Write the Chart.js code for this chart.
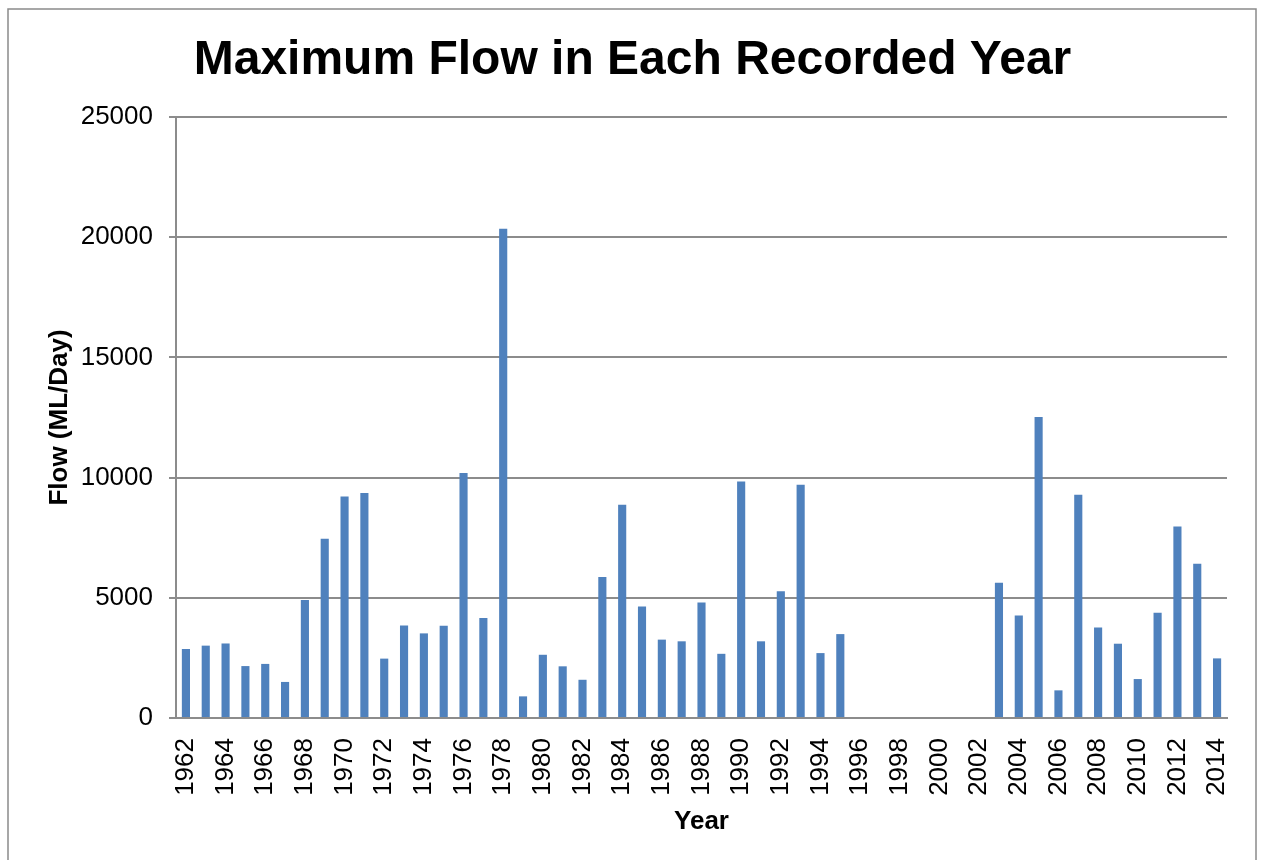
<!DOCTYPE html>
<html>
<head>
<meta charset="utf-8">
<title>Maximum Flow in Each Recorded Year</title>
<script src="https://cdn.jsdelivr.net/npm/chart.js@4/dist/chart.umd.min.js"></script>
<style>
  html, body { margin: 0; padding: 0; background: #ffffff; }
  #wrap { width: 1261px; height: 860px; position: relative; }
</style>
</head>
<body>
<div id="wrap"><canvas id="chart" width="1261" height="860"></canvas></div>
<script>
// Recording years (no gauging 1996–2002)
const years = [
  1962, 1963, 1964, 1965, 1966, 1967, 1968, 1969, 1970, 1971,
  1972, 1973, 1974, 1975, 1976, 1977, 1978, 1979, 1980, 1981,
  1982, 1983, 1984, 1985, 1986, 1987, 1988, 1989, 1990, 1991,
  1992, 1993, 1994, 1995, 1996, 1997, 1998, 1999, 2000, 2001,
  2002, 2003, 2004, 2005, 2006, 2007, 2008, 2009, 2010, 2011,
  2012, 2013, 2014
];

// Annual maximum flow, ML/Day
const maxFlow = [
  2870, 3010, 3100, 2160, 2250, 1500, 4910, 7460, 9210, 9360,
  2470, 3850, 3520, 3840, 10190, 4160, 20350, 900, 2630, 2150,
  1590, 5870, 8870, 4640, 3260, 3190, 4800, 2670, 9840, 3190,
  5270, 9700, 2700, 3490, null, null, null, null, null, null,
  null, 5630, 4260, 12520, 1150, 9290, 3760, 3090, 1620, 4380,
  7970, 6420, 2480
];

// Flow axis ticks
const flowTicks = [0, 5000, 10000, 15000, 20000, 25000];

const FONT = "'Liberation Sans', Arial, Helvetica, sans-serif";
const GRID = '#8c8c8c';

Chart.defaults.font.family = FONT;
Chart.defaults.color = '#000000';

// Outer frame around the whole chart
const framePlugin = {
  id: 'frame',
  beforeDraw(chart) {
    const ctx = chart.ctx;
    ctx.save();
    ctx.fillStyle = '#ffffff';
    ctx.fillRect(0, 0, chart.width, chart.height);
    ctx.strokeStyle = '#8a8a8a';
    ctx.lineWidth = 1.5;
    ctx.strokeRect(8, 9, 1248, 1000);
    ctx.restore();
  }
};

new Chart(document.getElementById('chart'), {
  type: 'bar',
  data: {
    labels: years.map(String),
    datasets: [{
      label: 'Maximum flow',
      data: maxFlow,
      backgroundColor: '#4f81bd',
      borderWidth: 0,
      categoryPercentage: 1.0,
      barPercentage: 0.41
    }]
  },
  options: {
    responsive: false,
    animation: false,
    layout: { padding: { left: 38, right: 34, top: 0, bottom: 0 } },
    plugins: {
      legend: { display: false },
      tooltip: { enabled: false },
      title: {
        display: true,
        text: 'Maximum Flow in Each Recorded Year',
        color: '#000000',
        font: { family: FONT, size: 48, weight: 'bold', lineHeight: 1.2 },
        padding: { top: 32, bottom: 27.4 }
      }
    },
    scales: {
      x: {
        grid: { display: false, drawTicks: false },
        border: { display: true, color: GRID, width: 2 },
        ticks: {
          autoSkip: false,
          maxRotation: 90,
          minRotation: 90,
          padding: 20,
          font: { family: FONT, size: 26 },
          callback: function (value, index) {
            return index % 2 === 0 ? this.getLabelForValue(value) : '';
          }
        },
        title: {
          display: true,
          text: 'Year',
          font: { family: FONT, size: 26, weight: 'bold', lineHeight: 1.2 },
          padding: { top: 0, bottom: 23 }
        },
        afterFit(scale) {
          scale.height = 142;
          scale.paddingLeft = 0;
          scale.paddingRight = 0;
        }
      },
      y: {
        min: 0,
        max: 25000,
        afterBuildTicks(scale) {
          scale.ticks = flowTicks.map(v => ({ value: v }));
        },
        grid: { color: GRID, lineWidth: 2, drawTicks: true, tickLength: 7 },
        border: { display: true, color: GRID, width: 2 },
        ticks: {
          padding: 16,
          font: { family: FONT, size: 26 },
          callback: v => String(v)
        },
        title: {
          display: true,
          text: 'Flow (ML/Day)',
          font: { family: FONT, size: 26, weight: 'bold', lineHeight: 1.2 },
          padding: { top: 6.4, bottom: 0 }
        },
        afterFit(scale) { scale.width = 138; }
      }
    }
  },
  plugins: [framePlugin]
});
</script>
</body>
</html>
